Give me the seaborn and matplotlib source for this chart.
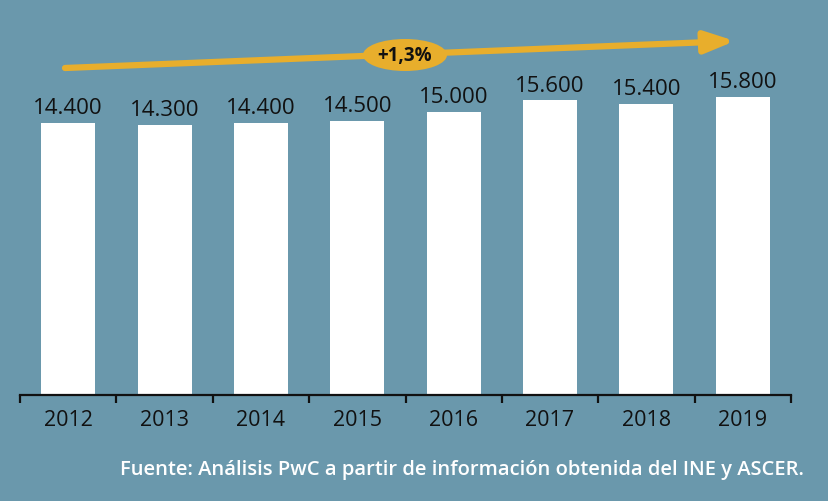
import matplotlib
matplotlib.use("Agg")
import matplotlib.pyplot as plt
from matplotlib.patches import Ellipse, Rectangle
import seaborn as sns
import pandas as pd

years = ["2012", "2013", "2014", "2015", "2016", "2017", "2018", "2019"]
values = [14400, 14300, 14400, 14500, 15000, 15600, 15400, 15800]
value_labels = ["14.400", "14.300", "14.400", "14.500", "15.000", "15.600", "15.400", "15.800"]
growth_label = "+1,3%"
source = "Fuente: Análisis PwC a partir de información obtenida del INE y ASCER."

BG = "#6A98AC"
GOLD = "#E8AE2C"

sns.set_theme(style="white")
plt.rcParams["font.family"] = ["Open Sans", "DejaVu Sans"]

df = pd.DataFrame({"year": years, "value": values})

fig = plt.figure(figsize=(8.32, 5.02), dpi=100, facecolor=BG)
ax = fig.add_axes([20 / 832, 106 / 502, 771 / 832, 396 / 502])
ax.set_facecolor(BG)

sns.barplot(data=df, x="year", y="value", color="white", width=0.56,
            saturation=1, ax=ax, edgecolor="none")

ax.set_xlim(-0.5, 7.5)
ax.set_ylim(0, 20970)

for i, (v, lab) in enumerate(zip(values, value_labels)):
    ax.text(i, v + 250, lab, ha="center", va="bottom", fontsize=16, color="#111111")

for s in ["top", "right", "left"]:
    ax.spines[s].set_visible(False)
ax.spines["bottom"].set_color("#111111")
ax.spines["bottom"].set_linewidth(1.6)
ax.set_yticks([])
ax.set_xlabel("")
ax.set_ylabel("")
ax.set_xticks(range(len(years)))
ax.set_xticklabels(years, fontsize=15.5, color="#111111")
ax.set_xticks([i - 0.5 for i in range(len(years) + 1)], minor=True)
ax.tick_params(axis="x", which="major", length=0, pad=10)
ax.tick_params(axis="x", which="minor", length=6, width=1.6, color="#111111", bottom=True)

# growth arrow
ax.annotate("", xy=(735 / 832, 1 - 42 / 502), xytext=(65 / 832, 1 - 69 / 502),
            xycoords="figure fraction", textcoords="figure fraction",
            arrowprops=dict(arrowstyle="-|>,head_length=1.5,head_width=0.55",
                            color=GOLD, lw=4.5, shrinkA=0, shrinkB=0))
ell = Ellipse((405 / 832, 1 - 56 / 502), 84 / 832, 32 / 502,
              transform=fig.transFigure, facecolor=GOLD, edgecolor="none", zorder=5)
fig.patches.append(ell)
fig.text(405 / 832, 1 - 56 / 502, growth_label, ha="center", va="center",
         fontsize=13.5, fontweight="bold", color="#111111", zorder=6)

fig.text(804 / 832, 1 - 470 / 502, source, ha="right", va="center",
         fontsize=14.5, fontweight="semibold", color="white")

fig.patches.append(Rectangle((828 / 832, 0), 4 / 832, 1, transform=fig.transFigure,
                             facecolor="white", edgecolor="none"))

fig.savefig("out.png", dpi=100, facecolor=BG)
